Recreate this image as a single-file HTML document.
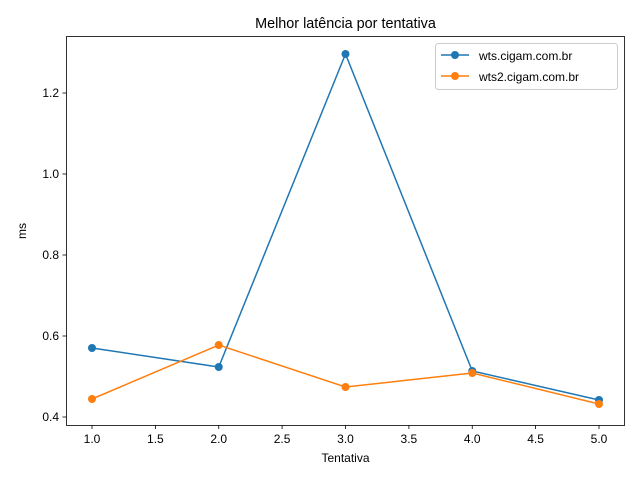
<!DOCTYPE html>
<html><head><meta charset="utf-8"><style>body{margin:0;background:#fff}svg{display:block}text{font-family:"Liberation Sans","DejaVu Sans",sans-serif;fill:#000}</style></head><body>
<svg width="640" height="480" viewBox="0 0 640 480">
<rect x="66.5" y="36.5" width="558" height="389" fill="none" stroke="#000" stroke-width="0.8"/>
<g font-size="12" text-anchor="middle">
<g stroke="#000" stroke-width="0.8">
<line x1="92" y1="425" x2="92" y2="429"/><line x1="155.4" y1="425" x2="155.4" y2="429"/><line x1="218.75" y1="425" x2="218.75" y2="429"/><line x1="282.1" y1="425" x2="282.1" y2="429"/><line x1="345.5" y1="425" x2="345.5" y2="429"/><line x1="408.9" y1="425" x2="408.9" y2="429"/><line x1="472.25" y1="425" x2="472.25" y2="429"/><line x1="535.6" y1="425" x2="535.6" y2="429"/><line x1="599" y1="425" x2="599" y2="429"/>
<line x1="62.5" y1="417" x2="66.5" y2="417"/><line x1="62.5" y1="336" x2="66.5" y2="336"/><line x1="62.5" y1="255" x2="66.5" y2="255"/><line x1="62.5" y1="174" x2="66.5" y2="174"/><line x1="62.5" y1="93" x2="66.5" y2="93"/>
</g>
<text x="92" y="443">1.0</text><text x="155.4" y="443">1.5</text><text x="218.75" y="443">2.0</text><text x="282.1" y="443">2.5</text><text x="345.5" y="443">3.0</text><text x="408.9" y="443">3.5</text><text x="472.25" y="443">4.0</text><text x="535.6" y="443">4.5</text><text x="599" y="443">5.0</text>
<text x="345.5" y="462">Tentativa</text>
<text x="345.5" y="28" font-size="14.4">Melhor latência por tentativa</text>
</g>
<g font-size="12" text-anchor="end">
<text x="59" y="421">0.4</text><text x="59" y="340">0.6</text><text x="59" y="259">0.8</text><text x="59" y="178">1.0</text><text x="59" y="97">1.2</text>
</g>
<text x="26" y="231" font-size="12" text-anchor="middle" transform="rotate(-90 26 231)">ms</text>
<polyline points="92,348 218.75,367 345.5,54 472.25,371 599,400" fill="none" stroke="#1f77b4" stroke-width="1.5"/>
<g fill="#1f77b4"><circle cx="92" cy="348" r="4"/><circle cx="218.75" cy="367" r="4"/><circle cx="345.5" cy="54" r="4"/><circle cx="472.25" cy="371" r="4"/><circle cx="599" cy="400" r="4"/></g>
<polyline points="92,399 218.75,345 345.5,387 472.25,373 599,404" fill="none" stroke="#ff7f0e" stroke-width="1.5"/>
<g fill="#ff7f0e"><circle cx="92" cy="399" r="4"/><circle cx="218.75" cy="345" r="4"/><circle cx="345.5" cy="387" r="4"/><circle cx="472.25" cy="373" r="4"/><circle cx="599" cy="404" r="4"/></g>
<rect x="435.5" y="43.5" width="182" height="46" rx="3" fill="#fff" fill-opacity="0.8" stroke="#ccc"/>
<line x1="441" y1="55" x2="469" y2="55" stroke="#1f77b4" stroke-width="1.5"/><circle cx="455" cy="55" r="4" fill="#1f77b4"/>
<line x1="441" y1="76" x2="469" y2="76" stroke="#ff7f0e" stroke-width="1.5"/><circle cx="455" cy="76" r="4" fill="#ff7f0e"/>
<text x="479" y="60" font-size="12">wts.cigam.com.br</text>
<text x="479" y="81" font-size="12">wts2.cigam.com.br</text>
</svg>
</body></html>
